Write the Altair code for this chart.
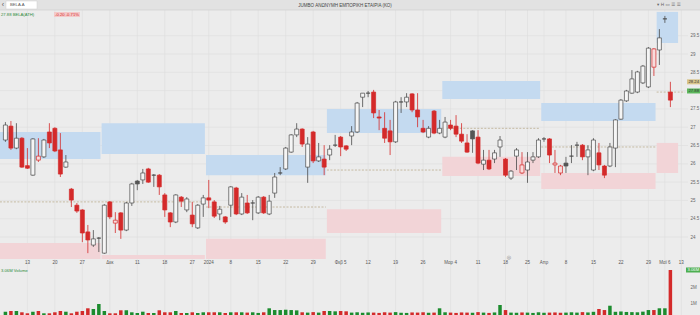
import altair as alt
import pandas as pd

# ---------------- data ----------------
opens = [26.65, 27.03, 26.43, 26.70, 25.95, 25.69, 26.10, 26.19, 26.87, 26.97,
         26.38, 25.91, 25.31, 24.87, 24.74, 24.14, 23.78, 23.97, 23.56, 24.96,
         24.38, 24.66, 24.19, 24.93, 25.53, 25.56, 25.86, 25.69, 25.69, 25.15,
         24.66, 24.41, 25.09, 24.74, 24.60, 24.25, 24.90, 25.07, 24.96, 24.63,
         24.55, 24.87, 25.34, 24.63, 24.93, 24.93, 24.66, 25.09, 24.63, 25.20,
         25.75, 25.86, 26.32, 26.79, 26.95, 25.91, 26.87, 26.08, 26.13, 26.24,
         26.51, 26.73, 26.49, 26.76, 26.87, 27.82, 27.93, 27.96, 27.28, 26.97,
         26.90, 26.60, 27.69, 27.69, 27.91, 27.47, 26.97, 26.73, 27.44, 26.84,
         26.73, 27.06, 27.03, 26.81, 26.57, 26.90, 26.73, 25.99, 26.10, 26.13,
         26.46, 26.13, 25.61, 26.21, 25.75, 25.83, 26.10, 26.19, 26.68, 26.68,
         25.97, 25.75, 26.02, 26.21, 26.51, 26.51, 26.19, 25.83, 26.30, 25.94,
         25.94, 26.43, 27.22, 27.72, 27.93, 27.96, 28.21, 28.10, 28.64, 29.11,
         29.96, 27.96]
closes = [27.06, 26.43, 26.70, 25.91, 25.88, 26.68, 26.21, 26.65, 26.57, 26.35,
          25.72, 26.05, 25.01, 24.71, 24.11, 23.92, 23.95, 23.97, 24.87, 24.55,
          24.46, 24.19, 24.93, 25.45, 25.45, 25.75, 25.50, 25.69, 25.37, 24.74,
          24.41, 25.15, 24.98, 25.04, 24.36, 24.87, 25.07, 25.01, 24.57, 24.76,
          24.41, 25.37, 24.63, 25.09, 24.66, 24.93, 25.09, 24.66, 24.98, 25.64,
          25.75, 26.43, 26.79, 26.95, 26.54, 26.54, 26.08, 26.19, 25.91, 26.40,
          26.51, 26.46, 26.40, 26.87, 27.66, 27.93, 27.93, 27.39, 27.25, 26.70,
          26.60, 27.69, 27.69, 27.82, 27.47, 27.28, 26.87, 26.97, 26.84, 26.97,
          27.14, 26.97, 26.81, 26.62, 26.32, 26.68, 26.02, 26.10, 25.86, 26.30,
          26.65, 25.69, 25.80, 26.38, 25.97, 26.05, 26.19, 26.65, 26.68, 26.24,
          26.02, 25.94, 25.94, 26.21, 26.51, 26.19, 26.38, 26.65, 25.97, 25.69,
          26.46, 27.20, 27.74, 27.99, 28.32, 28.51, 28.67, 29.16, 29.14, 29.44,
          29.96, 27.74]
highs = [27.14, 27.17, 27.11, 26.73, 26.43, 26.70, 26.70, 26.68, 27.11, 27.00,
         26.84, 26.24, 25.34, 24.93, 24.76, 24.33, 24.19, 24.00, 24.90, 24.98,
         24.68, 24.68, 24.96, 25.48, 25.56, 25.86, 25.89, 25.72, 25.72, 25.20,
         24.68, 25.17, 25.12, 25.09, 24.96, 24.90, 25.15, 25.56, 25.01, 24.85,
         24.57, 25.39, 25.37, 25.20, 25.15, 25.01, 25.12, 25.12, 25.15, 25.75,
         25.91, 26.46, 26.81, 27.11, 26.97, 26.73, 26.90, 26.57, 26.51, 26.51,
         26.79, 26.76, 26.51, 27.03, 27.69, 27.93, 27.99, 28.02, 27.47, 27.41,
         27.20, 27.72, 27.82, 27.93, 27.93, 27.93, 27.20, 27.03, 27.47, 27.20,
         27.28, 27.20, 27.33, 27.11, 26.81, 26.92, 26.92, 26.38, 26.38, 26.38,
         26.76, 26.16, 25.83, 26.43, 26.32, 26.32, 26.32, 26.70, 26.73, 26.70,
         26.38, 25.97, 26.19, 26.51, 26.60, 26.54, 26.51, 26.70, 26.57, 25.97,
         26.57, 27.22, 27.77, 28.02, 28.56, 28.54, 28.70, 29.19, 29.16, 29.68,
         30.04, 28.24]
lows = [26.60, 26.38, 26.40, 25.89, 25.86, 25.67, 26.05, 26.16, 26.43, 26.32,
        25.64, 25.89, 24.82, 24.66, 23.86, 23.56, 23.73, 23.59, 23.54, 24.49,
        24.11, 23.95, 24.16, 24.85, 25.28, 25.45, 25.48, 25.37, 25.15, 24.55,
        24.27, 24.38, 24.82, 24.68, 24.27, 24.22, 24.55, 24.79, 24.52, 24.46,
        24.36, 24.55, 24.60, 24.60, 24.63, 24.46, 24.63, 24.63, 24.60, 25.07,
        25.69, 25.83, 26.30, 26.73, 26.46, 25.48, 26.02, 26.05, 25.69, 26.10,
        26.46, 26.21, 26.35, 26.51, 26.84, 27.55, 27.82, 27.25, 26.92, 26.57,
        26.24, 26.57, 27.39, 27.55, 27.41, 27.00, 26.84, 26.70, 26.81, 26.81,
        26.70, 26.92, 26.73, 26.57, 26.30, 26.30, 25.99, 25.83, 25.83, 26.02,
        26.19, 25.64, 25.56, 25.83, 25.72, 25.48, 26.02, 26.16, 26.60, 26.02,
        25.75, 25.69, 25.75, 26.02, 26.19, 26.10, 25.69, 25.80, 25.83, 25.61,
        25.91, 25.91, 27.20, 27.69, 27.91, 27.93, 28.18, 28.07, 28.40, 28.70,
        29.85, 27.55]
volumes = [456, 500, 500, 419, 356, 456, 500, 356, 356, 419,
           500, 456, 356, 456, 500, 669, 625, 938, 500, 356,
           356, 544, 544, 419, 375, 456, 375, 375, 544, 419,
           419, 500, 375, 375, 419, 375, 419, 419, 419, 419,
           375, 419, 419, 419, 400, 419, 380, 419, 669, 560,
           560, 580, 560, 540, 420, 400, 430, 400, 500, 500,
           480, 500, 480, 400, 420, 390, 410, 400, 380, 420,
           400, 430, 390, 380, 410, 400, 420, 390, 400, 669,
           420, 400, 380, 410, 400, 390, 430, 400, 380, 410,
           875, 560, 400, 390, 410, 400, 380, 420, 390, 400,
           410, 390, 400, 420, 400, 430, 410, 450, 625, 560,
           830, 450, 470, 440, 430, 420, 460, 560, 560, 669,
           669, 3062]  # thousands of shares

# monthly zones (supply = blue, demand = pink) and monthly pivot
zone_start = [0.0, 18.5, 37.5, 59.5, 80.5, 98.5, 119.5]
zone_end = [18.3, 37.3, 59.3, 80.3, 98.3, 119.3, 123.4]
blue_top = [26.87, 27.11, 26.24, 27.50, 28.26, 27.66, 30.15]
blue_bot = [26.13, 26.27, 25.69, 26.84, 27.77, 27.17, 29.30]
pink_top = [23.84, 23.51, 23.95, 24.76, 26.19, 25.75, 26.57]
pink_bot = [23.20, 23.20, 23.20, 24.11, 25.67, 25.31, 25.75]
pivot = [24.96, 24.96, 24.82, 25.83, 26.97, 26.46, 27.96]
pivot_end = [18.3, 37.3, 59.3, 80.3, 98.3, 119.3, 124.7]

# date tick labels (position = trading-day index)
tick_pos = [5, 10, 15, 20, 25, 30, 35, 38, 42, 47, 52, 57, 62, 67, 72, 77, 82,
            87, 92, 96, 99, 103, 108, 113, 118, 121, 124]
tick_lab = ["13", "20", "27", "Δεκ", "11", "18", "27", "2024", "8", "15", "22",
            "29", "Φεβ 5", "12", "19", "26", "Μαρ 4", "11", "18", "25", "Απρ",
            "8", "15", "22", "29", "Μαϊ 6", "13"]
price_ticks = [24, 24.5, 25, 25.5, 26, 26.5, 27, 27.5, 28.5, 29, 29.5]
grid_ticks = [24, 24.5, 25, 25.5, 26, 26.5, 27, 27.5, 28, 28.5, 29, 29.5]
vol_ticks = [1000, 2000]

# right-hand value badges
badge_val = [28.24, 27.99]
badge_txt = ["28.24", "27.88"]
badge_col = ["#d8c48a", "#5cb85c"]

title_text = "JUMBO ΑΝΩΝΥΜΗ ΕΜΠΟΡΙΚΗ ΕΤΑΙΡΙΑ (ΚΟ)"

# ---------------- tables ----------------
idx = list(range(1, len(opens) + 1))
prev = [opens[0]] + closes[:-1]
style = []
for o, c, p in zip(opens, closes, prev):
    if c >= o:
        style.append("up" if c >= p else "upred")
    else:
        style.append("dn" if c < p else "dndark")
vcol = ["g" if c >= p else "r" for c, p in zip(closes, prev)]
cdf = pd.DataFrame(dict(i=idx, o=opens, c=closes, h=highs, l=lows, s=style))
vdf = pd.DataFrame(dict(i=idx, v=volumes, v0=[0] * len(idx), vc=vcol))
zdf = pd.DataFrame(dict(x0=zone_start, x1=zone_end, bt=blue_top, bb=blue_bot,
                        pt=pink_top, pb=pink_bot, pv=pivot, pe=pivot_end))
tdf = pd.DataFrame(dict(t=tick_pos, lab=tick_lab))
gdf = pd.DataFrame(dict(gy=grid_ticks))
bdf = pd.DataFrame(dict(bv=badge_val, bt=badge_txt, bc=badge_col))
one = pd.DataFrame(dict(a=[0]))

FONT = "Liberation Sans"
xs = alt.Scale(domain=[0.924, 126.48], nice=False, zero=False)
ys = alt.Scale(domain=[23.40, 30.202], range=[259, 10], nice=False,
               zero=False, clamp=True)
vs = alt.Scale(domain=[0, 3250], range=[319, 267], nice=False, zero=True)
paxis = alt.Axis(orient="right", values=price_ticks, format="~g", offset=-11,
                 domain=False, ticks=False, tickSize=0, grid=False,
                 labelPadding=1, labelFontSize=4.5, labelColor="#666666",
                 labelFont=FONT, title=None)
vaxis = alt.Axis(orient="right", values=vol_ticks, offset=-11, domain=False,
                 ticks=False, tickSize=0, grid=False, labelPadding=1,
                 labelFontSize=4.5, labelColor="#666666", labelFont=FONT,
                 title=None, labelExpr="format(datum.value/1000,'.0f') + 'M'")

sdom = ["up", "upred", "dn", "dndark"]
fill_s = alt.Scale(domain=sdom, range=["#f5f5f5", "#f7dcdc", "#d42a2a", "#555555"])
stroke_s = alt.Scale(domain=sdom, range=["#4a4a4a", "#d42a2a", "#d42a2a", "#555555"])

X = lambda f: alt.X(f, scale=xs, axis=None)
Y = lambda f: alt.Y(f, scale=ys, axis=paxis)

vgrid = alt.Chart(tdf).mark_rule(color="#dedede", strokeWidth=0.6).encode(
    x=X("t:Q"), y=alt.value(10), y2=alt.value(315))
hgrid = alt.Chart(gdf).mark_rule(color="#dedede", strokeWidth=0.6).encode(
    y=Y("gy:Q"), x=alt.value(0), x2=alt.value(688))
blue = alt.Chart(zdf).mark_rect(color="#c4daf0").encode(
    x=X("x0:Q"), x2="x1:Q", y=Y("bt:Q"), y2="bb:Q")
pink = alt.Chart(zdf).mark_rect(color="#f2d4d7").encode(
    x=X("x0:Q"), x2="x1:Q", y=Y("pt:Q"), y2="pb:Q")
piv = alt.Chart(zdf).mark_rule(color="#b5a582", strokeDash=[2, 1.5],
                               strokeWidth=0.7).encode(
    x=X("x0:Q"), x2="pe:Q", y=Y("pv:Q"))
wick = alt.Chart(cdf).mark_rule(strokeWidth=0.8).encode(
    x=X("i:Q"), y=Y("l:Q"), y2="h:Q",
    stroke=alt.Stroke("s:N", scale=stroke_s, legend=None))
body = alt.Chart(cdf).mark_bar(size=4, strokeWidth=0.7).encode(
    x=X("i:Q"), y=Y("o:Q"), y2="c:Q",
    fill=alt.Fill("s:N", scale=fill_s, legend=None),
    stroke=alt.Stroke("s:N", scale=stroke_s, legend=None))
badge_box = alt.Chart(bdf).mark_rect(height=5).encode(
    x=alt.value(687), x2=alt.value(700), y=Y("bv:Q"),
    color=alt.Color("bc:N", scale=None, legend=None))
badge_lab = alt.Chart(bdf).mark_text(fontSize=4.2, color="#333333", font=FONT,
                                     align="left", baseline="middle").encode(
    x=alt.value(688.5), y=Y("bv:Q"), text="bt:N")
price = alt.layer(hgrid, blue, pink, piv, wick, body, badge_box, badge_lab)

vol = alt.Chart(vdf).mark_rect(width=3.5).encode(
    x=X("i:Q"), y=alt.Y("v:Q", scale=vs, axis=vaxis, stack=None), y2="v0:Q",
    color=alt.Color("vc:N", scale=alt.Scale(domain=["g", "r"],
                    range=["#1c8c2e", "#d42a2a"]), legend=None))

xlab = alt.Chart(tdf).mark_text(fontSize=4.5, color="#555555", font=FONT,
                                baseline="middle").encode(
    x=X("t:Q"), y=alt.value(263), text="lab:N")

# header / chrome
bar_top = alt.Chart(one).mark_rect(color="#e2e2e2").encode(
    x=alt.value(0), x2=alt.value(700), y=alt.value(0), y2=alt.value(10))
bar_line = alt.Chart(one).mark_rule(color="#cfcfcf", strokeWidth=0.6).encode(
    x=alt.value(0), x2=alt.value(700), y=alt.value(10))
search = alt.Chart(one).mark_rect(color="#ffffff", stroke="#cccccc",
                                  strokeWidth=0.5).encode(
    x=alt.value(6), x2=alt.value(37), y=alt.value(1), y2=alt.value(9))
ttl = alt.Chart(one).mark_text(text=title_text, fontSize=4.5, color="#444444",
                               font=FONT).encode(
    x=alt.value(345), y=alt.value(5.5))
sym = alt.Chart(one).mark_text(text="BELA.A", fontSize=4.2, color="#555555",
                               font=FONT, align="left").encode(
    x=alt.value(10), y=alt.value(5.2))
arrow = alt.Chart(one).mark_text(text="‹", fontSize=7, color="#555555",
                                 font=FONT).encode(
    x=alt.value(3), y=alt.value(5))
icons = alt.Chart(one).mark_text(text="▾    H    ▭    ☰    ☰", fontSize=4.5,
                                 color="#666666", font="DejaVu Sans",
                                 align="left").encode(
    x=alt.value(657), y=alt.value(5))
info = alt.Chart(one).mark_text(text="27.88 BELA(ATH)", fontSize=4.2,
                                color="#2e8b3a", font=FONT,
                                align="left").encode(
    x=alt.value(1), y=alt.value(14.5))
chg_box = alt.Chart(one).mark_rect(color="#f4c9c9").encode(
    x=alt.value(54), x2=alt.value(80), y=alt.value(12), y2=alt.value(17))
chg = alt.Chart(one).mark_text(text="-0.20 -0.71%", fontSize=4.2,
                               color="#d42a2a", font=FONT,
                               align="left").encode(
    x=alt.value(55), y=alt.value(14.5))
vtitle = alt.Chart(one).mark_text(text="3.06M Volume", fontSize=4.2,
                                  color="#2e8b3a", font=FONT,
                                  align="left").encode(
    x=alt.value(1), y=alt.value(270.5))
vbadge = alt.Chart(one).mark_rect(color="#4caf50").encode(
    x=alt.value(686), x2=alt.value(700), y=alt.value(267.5), y2=alt.value(272.5))
vbadge_t = alt.Chart(one).mark_text(text="3.06M", fontSize=4.2, color="#ffffff",
                                    font=FONT, align="left").encode(
    x=alt.value(687.5), y=alt.value(270.3))
ev1 = alt.Chart(one).mark_text(text="▣", fontSize=4.5, color="#888888",
                               font="DejaVu Sans").encode(
    x=alt.value(68), y=alt.value(256))
ev2 = alt.Chart(one).mark_text(text="◎", fontSize=5, color="#888888",
                               font="DejaVu Sans").encode(
    x=alt.value(509), y=alt.value(256.5))

decor = alt.layer(vgrid, xlab, bar_top, bar_line, search, ttl, sym, arrow,
                  icons, info, chg_box, chg, vtitle, ev1, ev2)

chart = alt.layer(decor, price, vol, vbadge, vbadge_t).resolve_scale(
    y="independent", color="independent").properties(
    width=700, height=315, background="#ececec", padding=0,
    autosize=alt.AutoSizeParams(type="none")
).configure_view(stroke=None)

chart.save("out.html", embed_options={"renderer": "svg", "actions": False})
